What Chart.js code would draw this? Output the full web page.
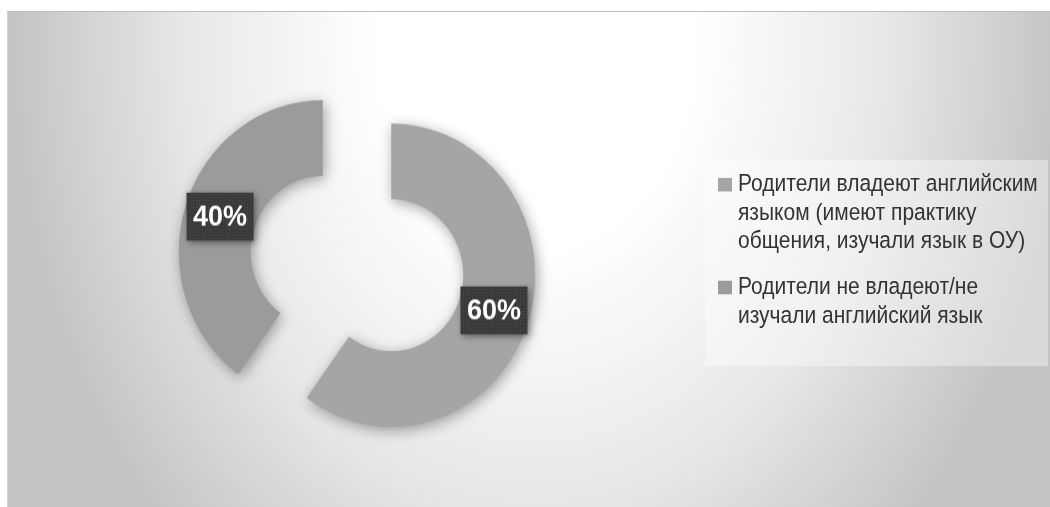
<!DOCTYPE html>
<html>
<head>
<meta charset="utf-8">
<script src="https://cdn.jsdelivr.net/npm/chart.js@4/dist/chart.umd.min.js"></script>
<style>
  html, body { margin: 0; padding: 0; background: #fff; }
  body { width: 1050px; height: 507px; position: relative; overflow: hidden;
         font-family: "Liberation Sans", Arial, sans-serif; }
  #frame { position: absolute; left: 7px; top: 11px; width: 1043px; height: 496px;
           box-sizing: border-box; border-top: 1px solid #bdbdbd; border-left: 1px solid #d2d2d2;
           background: radial-gradient(ellipse 525px 690px at 528px 29px,
                       #ffffff 0%, #ffffff 30%, #e8e8e8 66%, #c4c4c4 100%); }
  #plot { position: absolute; left: 0; top: 0; width: 1050px; height: 481px;
          transform: scaleY(1.0541); transform-origin: 0 0; }
  #legendBox { position: absolute; left: 705px; top: 160px; width: 343px; height: 206px;
               background: rgba(255,255,255,0.38); }
  #legend { position: absolute; left: 718px; top: 170px; width: 330px;
            transform: scaleY(1.13); transform-origin: 0 0;
            font-size: 21px; line-height: 24.8px; color: #333333; white-space: nowrap; }
  #legend .item { position: relative; padding-left: 20px; margin-bottom: 16.8px; }
  #legend .swatch { position: absolute; left: 0; top: 6.5px; width: 14px; height: 12.4px; }
</style>
</head>
<body>
<div id="frame"></div>
<div id="plot"><canvas id="chart"></canvas></div>
<div id="legendBox"></div>
<div id="legend"></div>
<script>
// Survey answers: share of parents by English-language background
const categories = [
  ["Родители владеют английским", "языком (имеют практику", "общения, изучали язык в ОУ)"],
  ["Родители не владеют/не", "изучали английский язык"]
];
const shares = [60, 40];
const shareLabels = ["60%", "40%"];
const sliceColors = ["#a5a5a5", "#9b9b9b"];

// distance each slice is pulled out from the common centre (px)
const EXPLODE = 36;

function sliceShift(arc) {
  const mid = (arc.startAngle + arc.endAngle) / 2;
  return { dx: Math.cos(mid) * EXPLODE, dy: Math.sin(mid) * EXPLODE };
}

function dotPattern(ctx) {
  const c = document.createElement('canvas');
  c.width = 3; c.height = 3;
  const g = c.getContext('2d');
  g.fillStyle = '#3a3a3a';
  g.fillRect(0, 0, 3, 3);
  g.fillStyle = '#4c4c4c';
  g.fillRect(1, 1, 1, 1);
  return ctx.createPattern(c, 'repeat');
}

const explodedSlices = {
  id: 'explodedSlices',
  beforeDatasetDraw(chart, args) {
    const ctx = chart.ctx;
    args.meta.data.forEach(arc => {
      const s = sliceShift(arc);
      ctx.save();
      ctx.shadowColor = 'rgba(0,0,0,0.36)';
      ctx.shadowBlur = 14;
      ctx.shadowOffsetX = 2;
      ctx.shadowOffsetY = 3;
      ctx.translate(s.dx, s.dy);
      arc.draw(ctx);
      ctx.restore();
    });
    return false;
  },
  afterDatasetsDraw(chart) {
    const ctx = chart.ctx;
    const meta = chart.getDatasetMeta(0);
    const fill = dotPattern(ctx);
    meta.data.forEach((arc, i) => {
      const s = sliceShift(arc);
      const p = arc.getCenterPoint();
      const x = p.x + s.dx, y = p.y + s.dy;
      const w = 67, h = 45.5;
      ctx.save();
      ctx.shadowColor = 'rgba(0,0,0,0.4)';
      ctx.shadowBlur = 6;
      ctx.shadowOffsetX = 2;
      ctx.shadowOffsetY = 2;
      ctx.fillStyle = fill;
      ctx.fillRect(x - w / 2, y - h / 2, w, h);
      ctx.restore();
      ctx.save();
      ctx.fillStyle = '#ffffff';
      ctx.font = 'bold 27px "Liberation Sans", Arial, sans-serif';
      ctx.textAlign = 'center';
      ctx.textBaseline = 'middle';
      ctx.fillText(shareLabels[i], x, y + 1);
      ctx.restore();
    });
  }
};

new Chart(document.getElementById('chart'), {
  type: 'doughnut',
  data: {
    labels: categories,
    datasets: [{
      data: shares,
      backgroundColor: sliceColors,
      borderWidth: 0,
      offset: 0,
      hoverOffset: 0
    }]
  },
  options: {
    responsive: true,
    maintainAspectRatio: false,
    animation: false,
    events: [],
    radius: 144,
    cutout: '50%',
    rotation: 0,
    layout: { padding: { left: 0, right: 336, top: 19, bottom: 0 } },
    plugins: { legend: { display: false }, tooltip: { enabled: false } }
  },
  plugins: [explodedSlices]
});

// legend beside the ring
const legendEl = document.getElementById('legend');
categories.forEach((lines, i) => {
  const item = document.createElement('div');
  item.className = 'item';
  const sw = document.createElement('span');
  sw.className = 'swatch';
  sw.style.background = sliceColors[i];
  item.appendChild(sw);
  lines.forEach(line => {
    const d = document.createElement('div');
    d.textContent = line;
    item.appendChild(d);
  });
  legendEl.appendChild(item);
});
</script>
</body>
</html>
